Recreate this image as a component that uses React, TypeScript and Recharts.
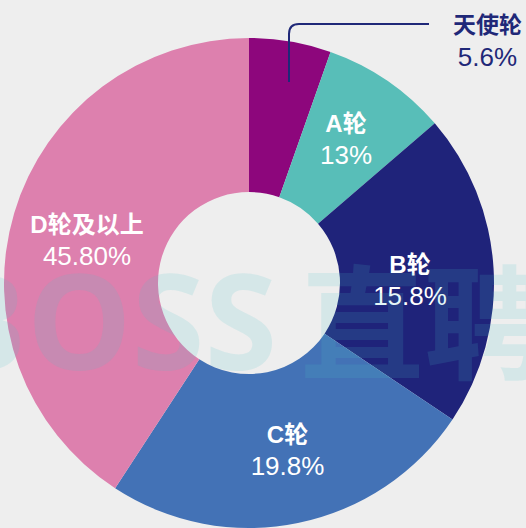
import React from "react";
import { PieChart, Pie, Cell } from "recharts";

// ---- data ----
const categories = ["天使轮", "A轮", "B轮", "C轮", "D轮及以上"];
// sector sizes as drawn in the picture (share of the full circle, %)
const drawnShares = [5.4, 8.3, 20.7, 24.8, 40.8];
// percentages printed on the labels
const shareLabels = ["5.6%", "13%", "15.8%", "19.8%", "45.80%"];

const colors = ["#8d067c", "#58beb8", "#1f237a", "#4372b6", "#dd80ae"];

const data = categories.map((name, i) => ({ name, value: drawnShares[i], text: shareLabels[i] }));

// label placement relative to pie centre (dx, dy of the first text baseline)
const LABEL_OFFSETS: Record<string, [number, number]> = {
  "A轮": [97, -151],
  "B轮": [161, -10],
  "C轮": [38.5, 160],
  "D轮及以上": [-162, -50],
};

const FONT = "'Liberation Sans', Arial, 'Noto Sans CJK SC', sans-serif";
const NAVY = "#1f2878";

const renderLabel = (props: any) => {
  const { cx, cy, index } = props;
  const d = data[index];
  if (index === 0) {
    const lx = cx + 40;
    const ly = cy - 201;
    const topY = cy - 259;
    const endX = cx + 180;
    const tx = cx + 238.5;
    return (
      <g>
        <path
          d={`M${lx},${ly} L${lx},${topY + 10} Q${lx},${topY} ${lx + 10},${topY} L${endX},${topY}`}
          stroke={NAVY}
          strokeWidth={2}
          fill="none"
        />
        <text x={tx} y={cy - 250} textAnchor="middle" fill={NAVY} fontFamily={FONT} fontSize={23} fontWeight="bold">
          {d.name}
        </text>
        <text x={tx} y={cy - 217} textAnchor="middle" fill={NAVY} fontFamily={FONT} fontSize={26}>
          {d.text}
        </text>
      </g>
    );
  }
  const off = LABEL_OFFSETS[d.name];
  const x = cx + off[0];
  const y = cy + off[1];
  return (
    <g>
      <text x={x} y={y} textAnchor="middle" fill="#ffffff" fontFamily={FONT} fontSize={24} fontWeight="bold">
        {d.name}
      </text>
      <text x={x} y={y + 32} textAnchor="middle" fill="#ffffff" fontFamily={FONT} fontSize={26}>
        {d.text}
      </text>
    </g>
  );
};

export default function App() {
  return (
    <div
      style={{
        position: "fixed",
        left: 0,
        top: 0,
        width: 526,
        height: 528,
        background: "#eeeeee",
        overflow: "hidden",
      }}
    >
      <PieChart width={526} height={528} margin={{ top: 0, right: 0, bottom: 0, left: 0 }}>
        <Pie
          data={data}
          dataKey="value"
          nameKey="name"
          cx={249}
          cy={283}
          innerRadius={91}
          outerRadius={245}
          startAngle={90}
          endAngle={-270}
          stroke="none"
          label={renderLabel}
          labelLine={false}
          isAnimationActive={false}
        >
          {data.map((d, i) => (
            <Cell key={d.name} fill={colors[i]} />
          ))}
        </Pie>
      </PieChart>
      <svg
        width={526}
        height={528}
        style={{ position: "absolute", left: 0, top: 0, pointerEvents: "none" }}
      >
        <text
          y={370}
          fill="rgb(72,195,200)"
          fillOpacity={0.15}
          fontFamily="'Open Sans', 'Noto Sans CJK SC', sans-serif"
          fontWeight="bold"
          fontSize={132}
        >
          <tspan x={-62}>BOSS</tspan>
          <tspan x={300} fontSize={124}>直聘</tspan>
        </text>
      </svg>
    </div>
  );
}
